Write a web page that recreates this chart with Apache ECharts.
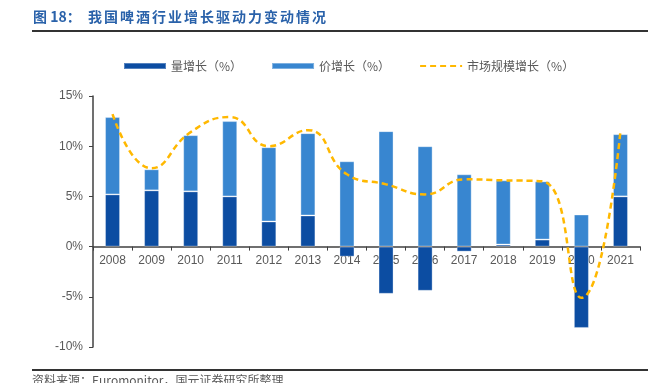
<!DOCTYPE html>
<html>
<head>
<meta charset="utf-8">
<script src="https://cdn.jsdelivr.net/npm/echarts@6/dist/echarts.min.js"></script>
<style>
html,body{margin:0;padding:0;background:#fff;}
#c{width:664px;height:383px;}
</style>
</head>
<body>
<div id="c"></div>
<script>
const years = ['2008','2009','2010','2011','2012','2013','2014','2015','2016','2017','2018','2019','2020','2021'];
const volumeGrowth = [5.2, 5.6, 5.5, 5.0, 2.5, 3.1, -1.0, -4.7, -4.4, -0.5, 0.2, 0.7, -8.1, 5.0];
const priceGrowth = [7.7, 2.1, 5.6, 7.5, 7.4, 8.2, 8.5, 11.5, 10.0, 7.2, 6.4, 5.8, 3.2, 6.2];
const marketGrowth = [13.2, 7.8, 11.4, 12.9, 10.0, 11.6, 7.2, 6.2, 5.2, 6.7, 6.6, 6.5, -5.1, 11.5];
const yTicks = [-10, -5, 0, 5, 10, 15];

const titlePrefix = '图 18：';
const titleMain = '我国啤酒行业增长驱动力变动情况';
const sourceText = '资料来源：Euromonitor，国元证券研究所整理';
const seriesNames = ['量增长（%）', '价增长（%）', '市场规模增长（%）'];

const chart = echarts.init(document.getElementById('c'), null, {renderer: 'canvas'});
const gray = '#595959';
const font = '"Noto Sans CJK SC", "Liberation Sans", sans-serif';
const titleColor = '#2A62AA';

const titleGraphics = [
  {type: 'text', x: 33, y: 10, style: {text: titlePrefix, fill: titleColor, font: 'bold 14px ' + font}}
];
for (let i = 0; i < titleMain.length; i++) {
  titleGraphics.push({type: 'text', x: 88 + i * 16, y: 10, style: {text: titleMain[i], fill: titleColor, font: 'bold 14px ' + font}});
}

function buildOption(xOffset) {
  return {
    animation: false,
    textStyle: {fontFamily: font},
    grid: {left: 93, right: 24, top: 96, bottom: 36},
    legend: {
      top: 55, left: 118,
      itemWidth: 42, itemHeight: 6, itemGap: 29,
      textStyle: {color: gray, fontSize: 12, fontFamily: font},
      data: [
        {name: seriesNames[0], icon: 'rect'},
        {name: seriesNames[1], icon: 'rect'},
        {name: seriesNames[2], itemStyle: {opacity: 0}}
      ]
    },
    xAxis: {
      type: 'category',
      data: years,
      offset: xOffset,
      axisLine: {onZero: false, lineStyle: {color: '#404040', width: 1.5}},
      axisTick: {show: true, alignWithLabel: false, length: 4, lineStyle: {color: '#404040'}},
      axisLabel: {color: gray, fontSize: 12, margin: 8, fontFamily: '"Liberation Sans", Arial, sans-serif'},
      splitLine: {show: false}
    },
    yAxis: {
      type: 'value',
      min: yTicks[0], max: yTicks[yTicks.length - 1], interval: 5,
      axisLine: {show: true, lineStyle: {color: '#404040', width: 1.5}},
      axisTick: {show: true, length: 4, lineStyle: {color: '#404040'}},
      axisLabel: {color: gray, fontSize: 12, margin: 10, formatter: v => v + '%', fontFamily: '"Liberation Sans", Arial, sans-serif'},
      splitLine: {show: false}
    },
    series: [
      {
        name: seriesNames[0], type: 'bar', stack: 'g', data: volumeGrowth,
        barWidth: 15,
        itemStyle: {color: '#0C4DA2', borderColor: 'rgba(255,255,255,0.3)', borderWidth: 1}
      },
      {
        name: seriesNames[1], type: 'bar', stack: 'g', data: priceGrowth,
        barWidth: 15,
        itemStyle: {color: '#3886D0', borderColor: 'rgba(255,255,255,0.35)', borderWidth: 1}
      },
      {
        name: seriesNames[2], type: 'line', data: marketGrowth,
        smooth: 0.5, symbol: 'none', z: 5,
        lineStyle: {color: '#FFB800', width: 2.5, type: [6, 4]},
        itemStyle: {color: '#FFB800'}
      }
    ],
    graphic: titleGraphics.concat([
      {type: 'rect', shape: {x: 32, y: 30, width: 616, height: 2}, style: {fill: '#333'}},
      {type: 'rect', shape: {x: 32, y: 369, width: 616, height: 2}, style: {fill: '#333'}},
      {type: 'text', x: 32, y: 374, style: {text: sourceText, fill: gray, font: '12px ' + font}}
    ])
  };
}

chart.setOption(buildOption(0));
// Move the category axis (line, ticks and labels) up to the zero value using the value scale
const zeroY = chart.convertToPixel({yAxisIndex: 0}, 0);
const minY = chart.convertToPixel({yAxisIndex: 0}, yTicks[0]);
chart.setOption(buildOption(-(minY - zeroY)));
</script>
</body>
</html>
